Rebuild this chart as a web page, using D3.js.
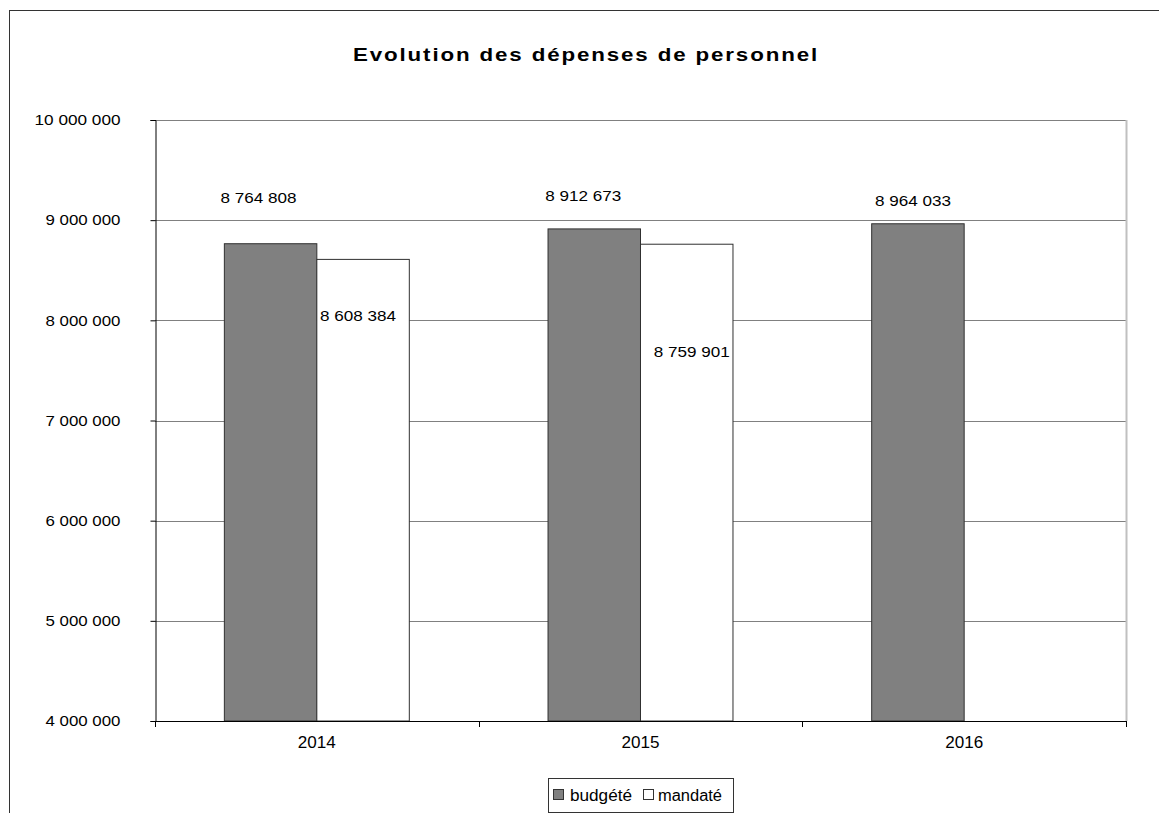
<!DOCTYPE html>
<html>
<head>
<meta charset="utf-8">
<script src="https://cdn.jsdelivr.net/npm/d3@7"></script>
<style>
    body { margin: 0; background: #fff; }
    svg text { font-family: "Liberation Sans", Arial, sans-serif; fill: #000; }
</style>
</head>
<body>
<svg width="1159" height="813"></svg>
<script>
// data
var years = ["2014", "2015", "2016"];
var budgete = [8764808, 8912673, 8964033];
var mandate = [8608384, 8759901, null];
var yTicks = [4000000, 5000000, 6000000, 7000000, 8000000, 9000000, 10000000];
var seriesNames = ["budgété", "mandaté"];

// hand placed label nudges (the original labels were moved by hand)
var nudgeBudgete = [[-12, -46], [-11, -33], [-5, -23]];
var nudgeMandate = [[-5, 56], [5, 108], [0, 0]];

var fr = d3.formatLocale({decimal: ",", thousands: " ", grouping: [3], currency: ["", " €"]});
var fmt = fr.format(",d");

var svg = d3.select("svg");
var plotLeft = 155, plotRight = 1126, plotTop = 120, plotBottom = 721;

// outer chart border (runs off the picture on right and bottom)
svg.append("rect")
    .attr("x", 9.5).attr("y", 10.5)
    .attr("width", 1200).attr("height", 900)
    .attr("fill", "none").attr("stroke", "#333");

svg.append("text")
    .attr("x", 586).attr("y", 61)
    .attr("text-anchor", "middle")
    .attr("font-size", 18).attr("font-weight", "bold")
    .attr("letter-spacing", 1.5)
    .attr("textLength", 466).attr("lengthAdjust", "spacingAndGlyphs")
    .text("Evolution des dépenses de personnel");

var yScale = d3.scaleLinear().domain([4000000, 10000000]).range([plotBottom, plotTop]);
var xScale = d3.scaleBand().domain(years).range([plotLeft, plotRight]);
var xSub = d3.scaleBand().domain([0, 1]).range([0, xScale.bandwidth()]).paddingOuter(0.75);

// gridlines
svg.append("g").selectAll("line")
    .data(yTicks.slice(1))
    .enter().append("line")
    .attr("x1", plotLeft).attr("x2", plotRight)
    .attr("y1", function(d) { return Math.round(yScale(d)) + 0.5; })
    .attr("y2", function(d) { return Math.round(yScale(d)) + 0.5; })
    .attr("stroke", "#808080");

// right border of plot area
svg.append("line")
    .attr("x1", plotRight + 0.5).attr("x2", plotRight + 0.5)
    .attr("y1", plotTop).attr("y2", plotBottom)
    .attr("stroke", "#c0c0c0").attr("stroke-width", 2);

// bars
var rows = years.map(function(y, i) { return {year: y, i: i, vals: [budgete[i], mandate[i]]}; });
var groups = svg.append("g").selectAll("g")
    .data(rows)
    .enter().append("g")
    .attr("transform", function(d) { return "translate(" + xScale(d.year) + ",0)"; });

groups.selectAll("rect")
    .data(function(d) {
        return d.vals.map(function(v, k) { return {k: k, v: v}; }).filter(function(e) { return e.v != null; });
    })
    .enter().append("rect")
    .attr("x", function(d) { return xSub(d.k); })
    .attr("width", xSub.bandwidth())
    .attr("y", function(d) { return yScale(d.v); })
    .attr("height", function(d) { return plotBottom - yScale(d.v); })
    .attr("fill", function(d) { return d.k == 0 ? "#808080" : "#ffffff"; })
    .attr("stroke", "#303030")
    .attr("stroke-width", 1);

// data labels
groups.each(function(d) {
    var g = d3.select(this);
    d.vals.forEach(function(v, k) {
        if (v == null) return;
        var n = k == 0 ? nudgeBudgete[d.i] : nudgeMandate[d.i];
        g.append("text")
            .attr("x", xSub(k) + xSub.bandwidth() / 2 + n[0])
            .attr("y", yScale(v) + n[1])
            .attr("dy", "0.35em")
            .attr("text-anchor", "middle")
            .attr("font-size", 15)
            .attr("textLength", 76).attr("lengthAdjust", "spacingAndGlyphs")
            .text(fmt(v));
    });
});

// y axis
var yAxis = svg.append("g")
    .attr("transform", "translate(" + (plotLeft + 0.5) + ",0)")
    .call(d3.axisLeft(yScale).tickValues(yTicks).tickSize(5).tickPadding(30).tickFormat(fmt));
yAxis.select(".domain").attr("stroke", "#000");
yAxis.selectAll(".tick line").attr("stroke", "#000");
yAxis.selectAll("text")
    .attr("font-size", 15)
    .attr("font-family", "Liberation Sans, Arial, sans-serif")
    .attr("fill", "#000");
yAxis.selectAll(".tick text").each(function(d) {
    var len = d >= 10000000 ? 86 : 75;
    d3.select(this).attr("textLength", len).attr("lengthAdjust", "spacingAndGlyphs");
});

// x axis line and ticks at category edges
svg.append("line")
    .attr("x1", plotLeft).attr("x2", plotRight + 1)
    .attr("y1", plotBottom + 0.5).attr("y2", plotBottom + 0.5)
    .attr("stroke", "#000");
var edges = years.map(function(y) { return xScale(y); }).concat([plotRight]);
svg.append("g").selectAll("line")
    .data(edges)
    .enter().append("line")
    .attr("x1", function(d) { return Math.round(d) + 0.5; })
    .attr("x2", function(d) { return Math.round(d) + 0.5; })
    .attr("y1", plotBottom).attr("y2", plotBottom + 6)
    .attr("stroke", "#000");
svg.append("g").selectAll("text")
    .data(years)
    .enter().append("text")
    .attr("x", function(d) { return xScale(d) + xScale.bandwidth() / 2; })
    .attr("y", plotBottom + 21)
    .attr("dy", "0.35em")
    .attr("text-anchor", "middle")
    .attr("font-size", 16)
    .attr("textLength", 38).attr("lengthAdjust", "spacingAndGlyphs")
    .text(function(d) { return d; });

// legend
var legend = svg.append("g").attr("transform", "translate(548,778)");
legend.append("rect")
    .attr("x", 0.5).attr("y", 0.5).attr("width", 185).attr("height", 34)
    .attr("fill", "#fff").attr("stroke", "#333");
var items = [{x: 5, fill: "#808080", name: seriesNames[0], tx: 22, len: 62},
             {x: 95, fill: "#ffffff", name: seriesNames[1], tx: 110, len: 64}];
items.forEach(function(it) {
    legend.append("rect")
        .attr("x", it.x + 0.5).attr("y", 11.5).attr("width", 10).attr("height", 10)
        .attr("fill", it.fill).attr("stroke", "#333");
    legend.append("text")
        .attr("x", it.tx).attr("y", 17)
        .attr("dy", "0.35em")
        .attr("font-size", 16)
        .attr("textLength", it.len).attr("lengthAdjust", "spacingAndGlyphs")
        .text(it.name);
});
</script>
</body>
</html>
